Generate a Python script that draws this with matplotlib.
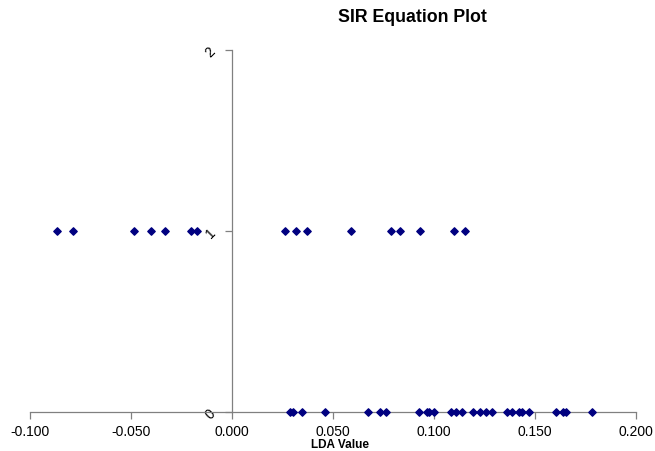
import matplotlib
matplotlib.use("Agg")
import matplotlib.pyplot as plt

plt.rcParams['font.family'] = ['Liberation Sans', 'DejaVu Sans']

# Data
lda_class1 = [-0.0865, -0.0789, -0.0487, -0.0402, -0.0330, -0.0204, -0.0172,
              0.0264, 0.0318, 0.0373, 0.0591, 0.0787, 0.0833, 0.0932, 0.1097, 0.1155]
lda_class0 = [0.0287, 0.0303, 0.0348, 0.0460, 0.0675, 0.0733, 0.0761, 0.0927,
              0.0964, 0.0977, 0.1001, 0.1083, 0.1107, 0.1140, 0.1193, 0.1226,
              0.1256, 0.1289, 0.1363, 0.1385, 0.1422, 0.1436, 0.1472, 0.1602,
              0.1640, 0.1652, 0.1784]
x_ticks = [-0.1, -0.05, 0.0, 0.05, 0.1, 0.15, 0.2]
x_ticklabels = ["-0.100", "-0.050", "0.000", "0.050", "0.100", "0.150", "0.200"]
y_ticks = [0, 1, 2]
y_ticklabels = ["0", "1", "2"]

fig = plt.figure(figsize=(6.55, 4.51), dpi=100)
ax = fig.add_axes([30/655, 39/451, 606/655, 362/451])

ax.scatter(lda_class1, [1]*len(lda_class1), marker='D', s=14, color='#000080', zorder=3, clip_on=False)
ax.scatter(lda_class0, [0]*len(lda_class0), marker='D', s=14, color='#000080', zorder=3, clip_on=False)

ax.set_xlim(-0.1, 0.2)
ax.set_ylim(0, 2)
ax.spines['top'].set_visible(False)
ax.spines['right'].set_visible(False)
ax.spines['left'].set_position(('data', 0))
for s in ['left', 'bottom']:
    ax.spines[s].set_color('#808080')
    ax.spines[s].set_linewidth(0.9)

ax.set_xticks(x_ticks)
ax.set_xticklabels(x_ticklabels, fontsize=10)
ax.set_yticks(y_ticks)
ax.set_yticklabels(y_ticklabels, fontsize=10, rotation=45)
ax.tick_params(axis='both', direction='out', length=5, color='#808080', width=0.9)
ax.tick_params(axis='x', pad=4)
ax.tick_params(axis='y', pad=5)

fig.text(412/655, 1 - 18/451, "SIR Equation Plot", fontsize=12.8, fontweight='bold',
         ha='center', va='center')
fig.text(340/655, 1 - 445/451, "LDA Value", fontsize=8.5, fontweight='bold',
         ha='center', va='center')

fig.savefig("out.png", dpi=100)
